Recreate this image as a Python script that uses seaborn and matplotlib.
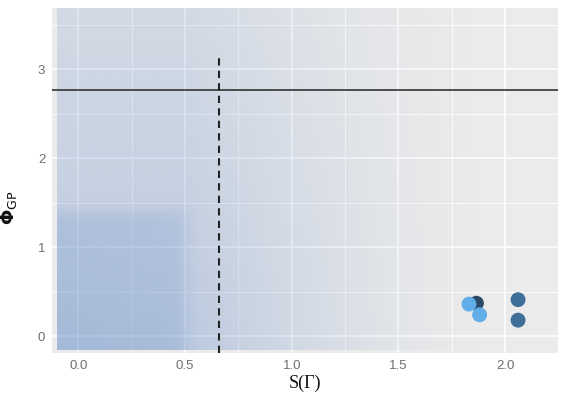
import numpy as np
import pandas as pd
import matplotlib
matplotlib.use("Agg")
import matplotlib.pyplot as plt
import seaborn as sns

# data
s_gamma = [1.865, 2.06, 2.06, 1.83, 1.88]
phi_gp = [0.37, 0.41, 0.18, 0.36, 0.24]
group = ["c", "b", "b", "a", "a"]
group_colors = {"a": "#62AEE8", "b": "#3F6E98", "c": "#2C4A68"}

h_line = 2.76        # horizontal reference
v_line = 0.66        # vertical dashed reference
v_line_top = 3.12

df = pd.DataFrame({"S": s_gamma, "Phi": phi_gp, "grp": group})

sns.set_theme(style="darkgrid", rc={
    "axes.facecolor": "#EBEBEB",
    "grid.color": "white",
    "axes.edgecolor": "#EBEBEB",
})
plt.rcParams["font.family"] = ["Liberation Sans", "DejaVu Sans"]

fig = plt.figure(figsize=(5.61, 4.04), dpi=100)
ax = fig.add_axes([0.093, 0.126, 0.902, 0.854])

xlim = (-0.122, 2.248)
ylim = (-0.19, 3.685)

# background blue shading (translucent overlay)
gx = np.linspace(-0.1, 2.3, 480)
gy = np.linspace(-0.15, 3.7, 400)
X, Y = np.meshgrid(gx, gy)
hx = np.clip((1.9 - X) / 1.4, 0, 1) ** 1.3
hx[X <= 0.5] = 1.0
alpha = hx * (0.35 - 0.045 * Y)
box = 0.16 * (1 / (1 + np.exp((X - 0.5) / 0.02))) * (1 / (1 + np.exp((Y - 1.4) / 0.04)))
box *= (1.0 - 0.15 * (X + 0.1) / 0.6).clip(0.8, 1)
alpha = np.clip(alpha + box, 0, 1)
img = np.zeros(X.shape + (4,))
img[..., 0] = 100 / 255
img[..., 1] = 140 / 255
img[..., 2] = 200 / 255
img[..., 3] = alpha
ax.imshow(img, extent=(-0.1, 2.3, -0.15, 3.7), origin="lower", aspect="auto",
          zorder=1, interpolation="bilinear")

# grid (major + minor, ggplot-like)
ax.set_xticks([0.0, 0.5, 1.0, 1.5, 2.0])
ax.set_xticklabels(["0.0", "0.5", "1.0", "1.5", "2.0"])
ax.set_yticks([0, 1, 2, 3])
ax.set_xticks([0.25, 0.75, 1.25, 1.75, 2.25], minor=True)
ax.set_yticks([0.5, 1.5, 2.5, 3.5], minor=True)
ax.grid(which="major", color="white", lw=1.1)
ax.grid(which="minor", color="white", lw=0.6)
ax.set_axisbelow(True)

ax.axhline(h_line, color="#333333", lw=1.2, zorder=3)
ax.plot([v_line, v_line], [ylim[0], v_line_top], color="#222222", lw=1.5,
        ls=(0, (3.5, 2.5)), zorder=3)

sns.scatterplot(data=df, x="S", y="Phi", hue="grp", palette=group_colors,
                s=115, edgecolor="none", legend=False, ax=ax, zorder=4)

ax.set_xlim(*xlim)
ax.set_ylim(*ylim)
ax.tick_params(axis="both", which="major", length=3, width=1, color="#444444",
               labelsize=9.5, labelcolor="#6E6E6E", pad=2)
ax.tick_params(which="minor", length=0)
for sp in ax.spines.values():
    sp.set_visible(False)

ax.set_xlabel("S(Γ)", family=["Liberation Serif", "DejaVu Serif"], fontsize=13,
              color="#111111", labelpad=2)
ax.set_ylabel(r"$\mathbf{\Phi}_{\mathsf{GP}}$", fontsize=13, color="#111111",
              labelpad=6)
ax.yaxis.set_label_coords(-0.065, 0.42)

fig.savefig("out.png", dpi=100)
